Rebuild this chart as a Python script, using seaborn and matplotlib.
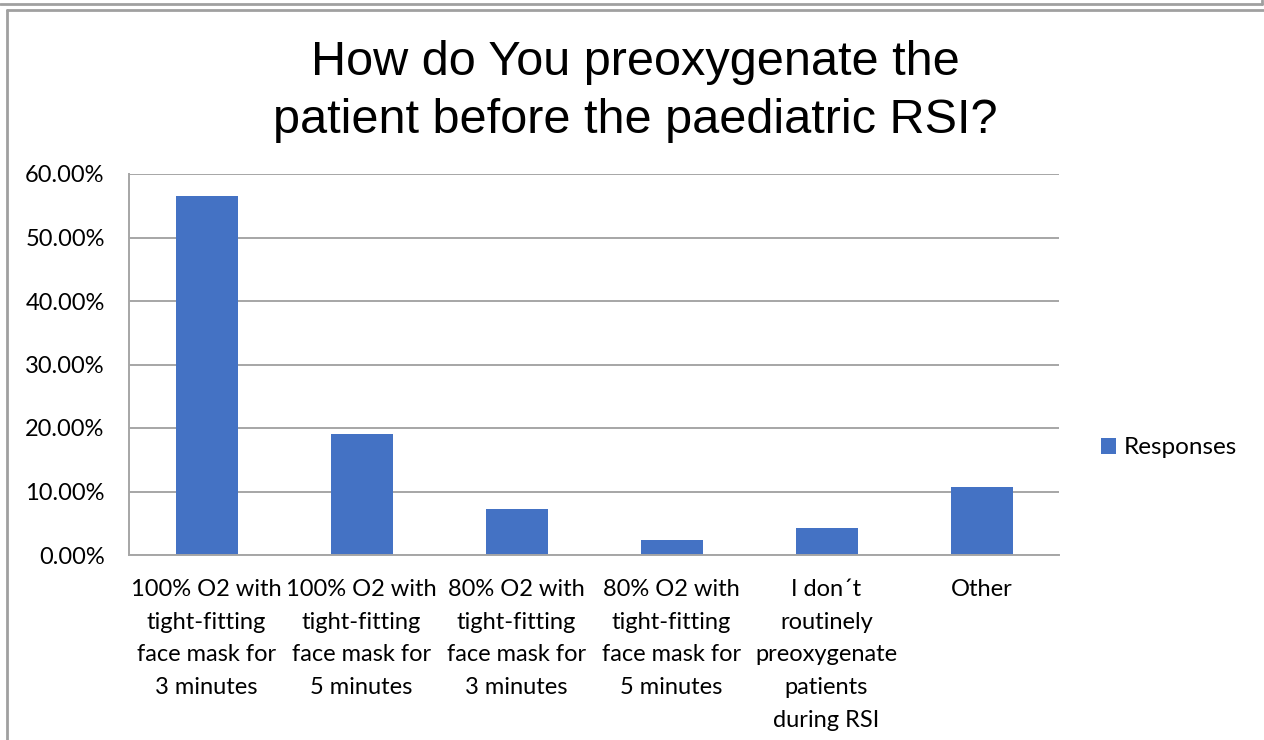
import matplotlib
matplotlib.use("Agg")
import matplotlib.pyplot as plt
from matplotlib.lines import Line2D
from matplotlib.patches import Patch
from matplotlib.ticker import PercentFormatter, FixedLocator
import seaborn as sb
import pandas as pd

# data
categories = [
    "100% O2 with\ntight-fitting\nface mask for\n3 minutes",
    "100% O2 with\ntight-fitting\nface mask for\n5 minutes",
    "80% O2 with\ntight-fitting\nface mask for\n3 minutes",
    "80% O2 with\ntight-fitting\nface mask for\n5 minutes",
    "I don\u00b4t\nroutinely\npreoxygenate\npatients\nduring RSI",
    "Other",
]
responses = [56.6, 19.05, 7.2, 2.4, 4.3, 10.65]
y_ticks = [0, 10, 20, 30, 40, 50, 60]
title = "How do You preoxygenate the\npatient before the paediatric RSI?"
series_name = "Responses"

bar_color = "#4472C4"
grid_color = "#A6A6A6"

sb.set_theme(style="white")
plt.rcParams["font.family"] = ["Lato", "DejaVu Sans"]

data = pd.DataFrame({"option": categories, "share": responses})

fig = plt.figure(figsize=(12.64, 7.40), dpi=100)
ax = fig.add_axes([129 / 1264, 185 / 740, 930 / 1264, 381 / 740])

sb.barplot(data=data, x="option", y="share", color=bar_color, saturation=1,
           width=0.4, linewidth=0, ax=ax)

ax.set_ylim(0, 60)
ax.set_xlim(-0.5, len(categories) - 0.5)
ax.yaxis.set_major_locator(FixedLocator(y_ticks))
ax.yaxis.set_major_formatter(PercentFormatter(decimals=2))
ax.yaxis.grid(True, color=grid_color, linewidth=1.4)
ax.set_axisbelow(True)
ax.set_xlabel("")
ax.set_ylabel("")

for side in ["top", "right"]:
    ax.spines[side].set_visible(False)
for side in ["left", "bottom"]:
    ax.spines[side].set_color(grid_color)
    ax.spines[side].set_linewidth(1.4)

ax.tick_params(axis="y", length=9, width=1.4, color=grid_color, pad=8.5,
               labelsize=17, labelcolor="black")
ax.tick_params(axis="x", which="major", length=0, pad=17, labelsize=17,
               labelcolor="black")
for lbl in ax.get_xticklabels():
    lbl.set_linespacing(1.7)
# tick marks between categories, like the spreadsheet chart
ax.set_xticks([i - 0.5 for i in range(len(categories) + 1)], minor=True)
ax.tick_params(axis="x", which="minor", length=8, width=1.4, color=grid_color)

fig.text(635 / 1264, 1 - 40 / 740, title, ha="center", va="top", color="black",
         fontsize=35, family=["Liberation Sans", "DejaVu Sans"], linespacing=1.37)

handle = Patch(facecolor=bar_color, edgecolor="none")
ax.legend([handle], [series_name], frameon=False, fontsize=17.5,
          labelcolor="black",
          loc="center left", bbox_to_anchor=(1101 / 1264, 1 - 448 / 740),
          bbox_transform=fig.transFigure, handlelength=0.62, handleheight=0.62,
          handletextpad=0.3, borderaxespad=0, borderpad=0)

# window frame lines around the chart
frame = "#A0A0A0"
fig.add_artist(Line2D([0, 1262 / 1264], [1 - 4 / 740] * 2, color=frame, lw=2))
fig.add_artist(Line2D([1262 / 1264] * 2, [1, 1 - 4 / 740], color=frame, lw=2))
fig.add_artist(Line2D([7 / 1264, 1], [1 - 10 / 740] * 2, color=frame, lw=2))
fig.add_artist(Line2D([7 / 1264] * 2, [0, 1 - 10 / 740], color=frame, lw=2))

fig.savefig("out.png", dpi=100)
